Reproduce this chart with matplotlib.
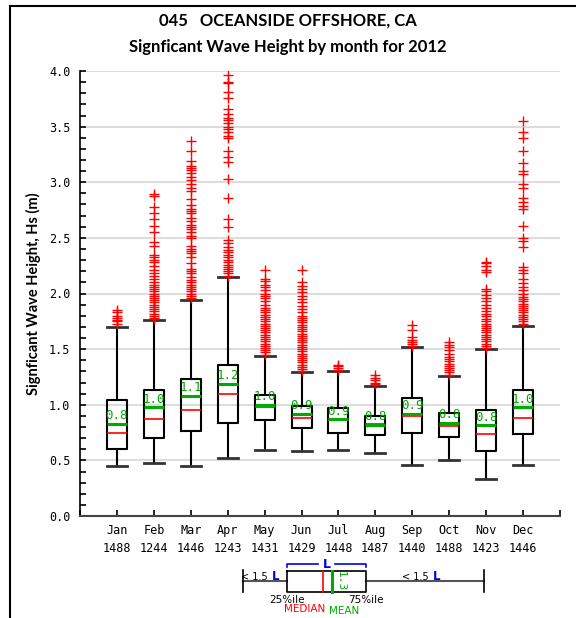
import matplotlib
matplotlib.use('Agg')
import matplotlib.pyplot as plt
from matplotlib.ticker import MultipleLocator, FormatStrFormatter
from matplotlib.lines import Line2D

months = ['Jan', 'Feb', 'Mar', 'Apr', 'May', 'Jun', 'Jul', 'Aug', 'Sep', 'Oct', 'Nov', 'Dec']
counts = [1488, 1244, 1446, 1243, 1431, 1429, 1448, 1487, 1440, 1488, 1423, 1446]

# monthly Hs statistics (m)
q1 = [0.60, 0.70, 0.76, 0.84, 0.86, 0.79, 0.75, 0.725, 0.75, 0.71, 0.58, 0.74]
med = [0.75, 0.87, 0.95, 1.10, 0.98, 0.88, 0.86, 0.83, 0.90, 0.81, 0.74, 0.88]
q3 = [1.04, 1.13, 1.23, 1.36, 1.09, 0.99, 0.975, 0.90, 1.06, 0.93, 0.95, 1.13]
mean = [0.83, 0.98, 1.08, 1.19, 1.00, 0.92, 0.87, 0.82, 0.92, 0.84, 0.815, 0.98]
whis_lo = [0.45, 0.48, 0.45, 0.52, 0.59, 0.58, 0.59, 0.57, 0.46, 0.50, 0.33, 0.46]
whis_hi = [1.70, 1.76, 1.94, 2.15, 1.44, 1.29, 1.30, 1.17, 1.52, 1.26, 1.50, 1.71]

jan_out = [1.73, 1.75, 1.76, 1.78, 1.80, 1.83, 1.85]
feb_out = [1.77, 1.78, 1.80, 1.82, 1.84, 1.86, 1.88, 1.90, 1.92, 1.94, 1.96, 1.98, 2.00,
           2.02, 2.04, 2.06, 2.08, 2.10, 2.13, 2.16, 2.18, 2.21, 2.25, 2.28, 2.30, 2.33,
           2.35, 2.43, 2.46, 2.55, 2.61, 2.67, 2.72, 2.78, 2.88, 2.89]
mar_out = [1.96, 1.98, 2.00, 2.02, 2.04, 2.06, 2.08, 2.10, 2.12, 2.15, 2.18, 2.20, 2.22,
           2.27, 2.33, 2.36, 2.38, 2.40, 2.43, 2.50, 2.52, 2.55, 2.58, 2.60, 2.62, 2.65,
           2.68, 2.72, 2.74, 2.76, 2.80, 2.85, 2.92, 2.95, 2.98, 3.02, 3.05, 3.08, 3.11,
           3.13, 3.15, 3.19, 3.28, 3.37]
apr_out = [2.16, 2.18, 2.20, 2.22, 2.24, 2.26, 2.28, 2.30, 2.33, 2.35, 2.37, 2.39, 2.42,
           2.45, 2.48, 2.60, 2.67, 2.86, 3.03, 3.18, 3.23, 3.28, 3.40, 3.42, 3.45, 3.48,
           3.50, 3.53, 3.56, 3.58, 3.61, 3.66, 3.76, 3.81, 3.89, 3.90, 3.96]
may_out = [1.45, 1.47, 1.49, 1.51, 1.53, 1.55, 1.57, 1.59, 1.61, 1.63, 1.65, 1.67, 1.69,
           1.71, 1.73, 1.75, 1.77, 1.79, 1.81, 1.83, 1.85, 1.87, 1.90, 1.93, 1.96, 1.98,
           2.00, 2.03, 2.06, 2.08, 2.11, 2.13, 2.21]
jun_out = [1.30, 1.32, 1.34, 1.36, 1.38, 1.40, 1.42, 1.44, 1.46, 1.48, 1.50, 1.52, 1.54,
           1.56, 1.58, 1.60, 1.62, 1.64, 1.66, 1.68, 1.70, 1.72, 1.74, 1.76, 1.78, 1.80,
           1.83, 1.86, 1.89, 1.92, 1.95, 1.98, 2.01, 2.04, 2.07, 2.10, 2.21]
jul_out = [1.31, 1.33, 1.35, 1.36]
aug_out = [1.19, 1.20, 1.22, 1.24, 1.27]
sep_out = [1.53, 1.55, 1.56, 1.58, 1.61, 1.67, 1.72]
oct_out = [1.27, 1.29, 1.31, 1.33, 1.35, 1.37, 1.39, 1.41, 1.43, 1.46, 1.49, 1.52, 1.54, 1.56]
nov_out = [1.51, 1.53, 1.55, 1.57, 1.59, 1.61, 1.63, 1.65, 1.67, 1.69, 1.71, 1.73, 1.75,
           1.77, 1.80, 1.82, 1.84, 1.87, 1.90, 1.93, 1.96, 1.99, 2.02, 2.04, 2.19, 2.21,
           2.25, 2.27, 2.28]
dec_out = [1.73, 1.75, 1.77, 1.79, 1.81, 1.83, 1.85, 1.87, 1.89, 1.91, 1.93, 1.95, 1.97,
           2.00, 2.03, 2.06, 2.09, 2.13, 2.18, 2.21, 2.24, 2.42, 2.47, 2.50, 2.61, 2.76,
           2.79, 2.82, 2.86, 2.95, 2.98, 3.07, 3.10, 3.17, 3.28, 3.40, 3.45, 3.55]
outliers = [jan_out, feb_out, mar_out, apr_out, may_out, jun_out,
            jul_out, aug_out, sep_out, oct_out, nov_out, dec_out]

RED = '#ff0000'
GREEN = '#00aa00'
BLUE = '#0000ee'
mono = 'DejaVu Sans Mono'
head = 'Lato'

fig = plt.figure(figsize=(5.76, 6.18), dpi=100)
ax = fig.add_axes([80 / 576, 1 - 516 / 618, 480 / 576, 445 / 618])

stats = []
for i in range(12):
    stats.append(dict(med=med[i], q1=q1[i], q3=q3[i], mean=mean[i],
                      whislo=whis_lo[i], whishi=whis_hi[i], fliers=outliers[i]))

pos = list(range(1, 13))
ax.bxp(stats, positions=pos, widths=0.54, showmeans=True, meanline=True,
       boxprops=dict(color='black', linewidth=1.5),
       whiskerprops=dict(color='black', linewidth=1.5),
       capprops=dict(color='#333333', linewidth=2),
       capwidths=0.54,
       medianprops=dict(color=RED, linewidth=1.2),
       meanprops=dict(color=GREEN, linewidth=2.2, linestyle='-'),
       flierprops=dict(marker='+', markeredgecolor=RED, markersize=6.5,
                       markeredgewidth=1.0, linestyle='none'))

for p, m in zip(pos, mean):
    ax.annotate(f'{m:.1f}', (p, m), xytext=(0, 1), textcoords='offset points',
                ha='center', va='bottom', color=GREEN, fontsize=9, family=mono)

ax.set_xlim(0, 13)
ax.set_ylim(0, 4)
ax.yaxis.set_major_locator(MultipleLocator(0.5))
ax.yaxis.set_minor_locator(MultipleLocator(0.1))
ax.yaxis.set_major_formatter(FormatStrFormatter('%.1f'))
ax.set_xticks(range(0, 14))
ax.set_xticklabels([''] + [f'{m}\n{c}' for m, c in zip(months, counts)] + [''],
                   family=mono, fontsize=8.5, linespacing=1.5)
for lab in ax.get_yticklabels():
    lab.set_family(mono)
    lab.set_fontsize(8.5)
ax.tick_params(axis='both', which='both', direction='in', length=4, width=1.2)
ax.tick_params(axis='y', pad=7)
ax.tick_params(axis='x', pad=6)
ax.grid(axis='y', which='major', color='#dddddd', linewidth=1.5, zorder=0)
ax.set_axisbelow(True)
for s in ('top', 'right'):
    ax.spines[s].set_visible(False)
ax.spines['left'].set_linewidth(1.2)
ax.spines['bottom'].set_color('#444444')
ax.spines['bottom'].set_linewidth(1.5)

ax.set_ylabel('Signficant Wave Height, Hs (m)', fontsize=10.5, fontweight='bold',
              family=head, labelpad=6)
fig.text(0.5, 1 - 21 / 618, '045   OCEANSIDE OFFSHORE, CA', ha='center', va='center',
         fontsize=12, fontweight='bold', family=head)
fig.text(0.5, 1 - 47 / 618, 'Signficant Wave Height by month for 2012', ha='center',
         va='center', fontsize=12, fontweight='bold', family=head)

# key diagram and page frame, drawn in pixel coordinates
ov = fig.add_axes([0, 0, 1, 1], facecolor='none')
ov.set_xlim(0, 576)
ov.set_ylim(618, 0)
ov.axis('off')

def seg(x, y, **kw):
    ov.add_line(Line2D(x, y, **kw))

seg([10, 10], [6, 618], color='black', lw=1.5)
seg([10, 576], [6, 6], color='black', lw=1.5)

seg([243, 287], [581, 581], color='#555555', lw=1.5)
seg([366, 484], [581, 581], color='#555555', lw=1.5)
seg([243, 243], [570, 592], color='black', lw=1.2)
seg([484, 484], [570, 592], color='black', lw=1.2)
seg([287, 366, 366, 287, 287], [571, 571, 592, 592, 571], color='black', lw=1.2)
seg([323, 323], [571, 592], color=RED, lw=1.2)
seg([332, 332], [571, 592], color=GREEN, lw=2.2)
ov.text(341, 581, '1.3', rotation=-90, ha='center', va='center', color=GREEN,
        fontsize=8, family=mono)
seg([287, 287, 318], [567, 563.5, 563.5], color=BLUE, lw=1.2)
seg([335, 366, 366], [563.5, 563.5, 567], color=BLUE, lw=1.2)
ov.text(327, 564, 'L', ha='center', va='center', color=BLUE, fontsize=9, fontweight='bold')
ov.text(268, 577, '< 1.5', ha='right', va='center', fontsize=7)
ov.text(272, 577, 'L', ha='left', va='center', color=BLUE, fontsize=8.5, fontweight='bold')
ov.text(429, 577, '< 1.5', ha='right', va='center', fontsize=7)
ov.text(433, 577, 'L', ha='left', va='center', color=BLUE, fontsize=8.5, fontweight='bold')
ov.text(287, 600, '25%ile', ha='center', va='center', fontsize=7.5)
ov.text(366, 600, '75%ile', ha='center', va='center', fontsize=7.5)
ov.text(305, 609, 'MEDIAN', ha='center', va='center', color=RED, fontsize=7.5)
ov.text(344, 611, 'MEAN', ha='center', va='center', color=GREEN, fontsize=7.5)

fig.savefig('out.png', dpi=100)
